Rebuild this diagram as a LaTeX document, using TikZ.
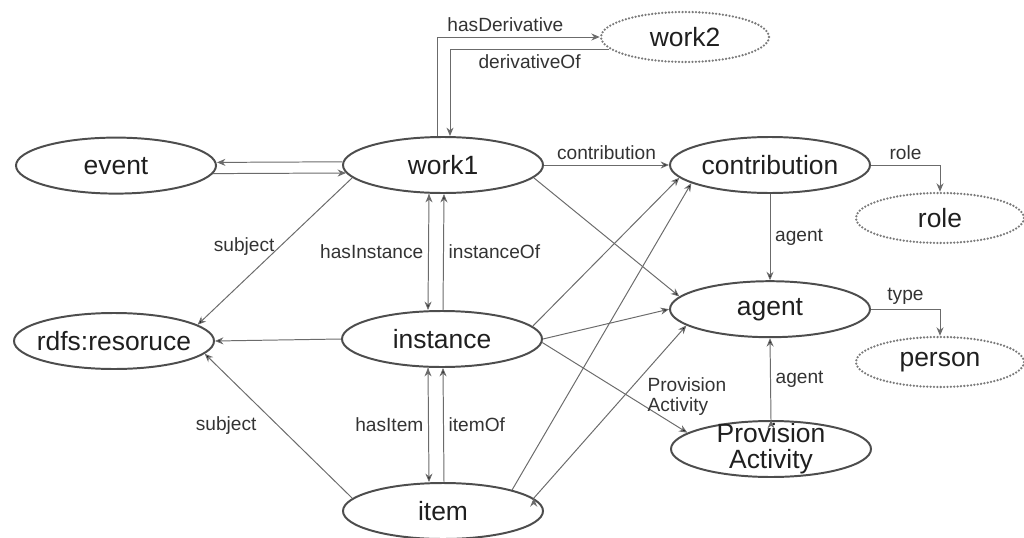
\documentclass[tikz,border=0pt]{standalone}
\usepackage{fontspec}
\setmainfont{Liberation Sans}
\usetikzlibrary{arrows.meta,shapes.geometric}

\definecolor{boxline}{HTML}{4D4D4D}
\definecolor{dotline}{HTML}{7A7A7A}
\definecolor{linkgray}{HTML}{6B6B6B}
\definecolor{labelgray}{HTML}{333333}

\begin{document}
\begin{tikzpicture}
[box/.style={ellipse, draw=boxline, line width=1.4pt, text=black!88,
minimum width=5cm, minimum height=1.4cm, inner xsep=-6pt, inner ysep=0pt,
font=\fontsize{18.8}{18.4}\selectfont},
dotbox/.style={ellipse, draw=dotline, line width=1.8pt, line cap=round,
dash pattern=on 0pt off 2.4pt, text=black!88,
minimum width=4.2cm, minimum height=1.25cm, inner xsep=-6pt, inner ysep=0pt,
font=\fontsize{18.8}{18.4}\selectfont},
link/.style={draw=linkgray, line width=0.7pt, -{Stealth[length=6pt,width=5pt]}}]
\useasboundingbox (0,0) rectangle (25.6,-13.45);
\node[box] (event) at (2.9,-4.14) {event};
\node[box] (work1) at (11.075,-4.125) {work1};
\node[box] (rdfs) at (2.85,-8.525) {rdfs:resoruce};
\node[box] (instance) at (11.05,-8.475) {instance};
\node[box] (item) at (11.075,-12.775) {item};
\node[box] (contrib) at (19.25,-4.125) {contribution};
\node[box] (agent) at (19.25,-7.73) {agent};
\node[box, align=center, inner ysep=-5pt] (provact) at (19.275,-11.225) {Provision\\Activity};
\node[dotbox] (work2) at (17.125,-0.925) {work2};
\node[dotbox] (role) at (23.5,-5.45) {role};
\node[dotbox] (person) at (23.5,-9.05) {person};

 \begin{scope}[every node/.style={font=\fontsize{13.6}{14.5}\selectfont, text=labelgray}]
\path[link] (work1.east) edge node[above]{contribution} (contrib.west)
            (work1.-8) edge (agent.172)
            (work1.188) edge node[left, pos=0.47]{subject} (rdfs.11)
            ([xshift=-0.35cm]work1.south) edge node[left]{hasInstance} ([xshift=-0.35cm]instance.north);
\draw[link] ([yshift=0.08cm]work1.west) -- ([yshift=0.08cm]event.east);
\draw[link] ([yshift=-0.2cm,xshift=-0.1cm]event.east) -- ([yshift=-0.2cm,xshift=0.1cm]work1.west);
\draw[link] ([xshift=-0.15cm]work1.north) |- node[pos=0.71, above]{hasDerivative} (work2.west);
\draw[link] (work2.189) -| node[pos=0.25, below]{derivativeOf} ([xshift=0.175cm]work1.north);
\path[link] ([xshift=0.025cm]instance.north) edge node[right]{instanceOf} ([xshift=0.025cm]work1.south)
            (instance.west) edge (rdfs.east)
            (instance.8) edge (contrib.188)
            (instance.east) edge (agent.west)
            (instance.-2) edge node[pos=0.69, anchor=west, yshift=0.2cm, align=left]{Provision\\Activity} (provact.169)
            ([xshift=-0.35cm]instance.south) edge node[left]{hasItem} ([xshift=-0.35cm]item.north);
\path[link] ([xshift=0.025cm]item.north) edge node[right]{itemOf} ([xshift=0.025cm]instance.south)
            (item.172) edge node[left=12pt]{subject} (rdfs.-8)
            (item.17) edge (contrib.193)
            (item.8) edge (agent.191);
\path[link] (contrib.south) edge node[right]{agent} (agent.north)
            (provact.north) edge node[right]{agent} (agent.south);
\draw[link] (contrib.east) -| node[pos=0.25, above]{role} (role.north);
\draw[link] (agent.east) -| node[pos=0.25, above]{type} (person.north);
\end{scope}
\end{tikzpicture}
\end{document}
